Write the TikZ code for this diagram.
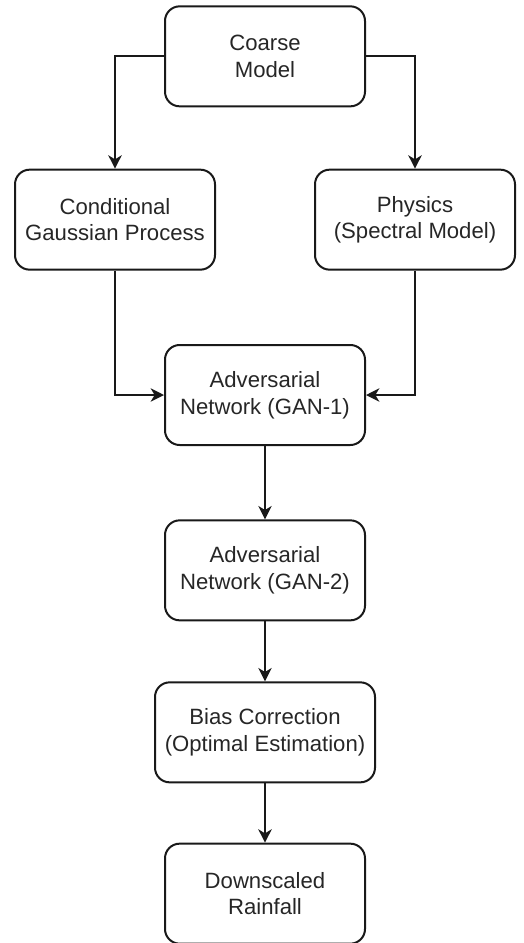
\documentclass[tikz,border=0pt]{standalone}
\usepackage{fontspec}
\setmainfont{Liberation Sans}
\usepackage{tikz}
\usetikzlibrary{arrows.meta, positioning}

\begin{document}
\begin{tikzpicture}[
        node distance=47pt and 50pt,
        stage/.style={rectangle, draw=black!90, line width=1.5pt, rounded corners=11pt,
                      minimum width=150pt, minimum height=75pt, align=center,
                      text=black!85, font=\fontsize{16.6pt}{20pt}\selectfont},
        widestage/.style={stage, minimum width=165pt},
        arrow/.style={draw=black!90, line width=1.5pt,
                      -{Stealth[length=10pt, width=10pt, inset=3pt]}}
      ]

      % page frame
      \useasboundingbox (0pt,0pt) rectangle (393pt,-707.25pt);

      % --- Input
      \node (coarse) [stage, anchor=north] at (198.75pt,-4pt) {Coarse\\Model};

      % --- Two branches
      \node (gauss) [stage, below=46pt of coarse, xshift=-112.5pt] {Conditional\\Gaussian Process};
      \node (physics) [stage, below=46pt of coarse, xshift=112.5pt] {Physics\\(Spectral Model)};

      % --- GAN chain
      \node (gan1) [stage, below=55pt of gauss, xshift=112.5pt] {Adversarial\\Network (GAN-1)};
      \node (gan2) [stage, below=55pt of gan1] {Adversarial\\Network (GAN-2)};

      % --- Correction and output
      \node (bias) [widestage, below=45pt of gan2] {Bias Correction\\(Optimal Estimation)};
      \node (rain) [stage, below=44.5pt of bias] {Downscaled\\Rainfall};

      % --- Arrows
      \draw [arrow] (coarse.west) -| (gauss.north);
      \draw [arrow] (coarse.east) -| (physics.north);
      \draw [arrow] (gauss.south) |- (gan1.west);
      \draw [arrow] (physics.south) |- (gan1.east);
      \draw [arrow] (gan1) -- (gan2);
      \draw [arrow] (gan2) -- (bias);
      \draw [arrow] (bias) -- (rain);

\end{tikzpicture}
\end{document}
